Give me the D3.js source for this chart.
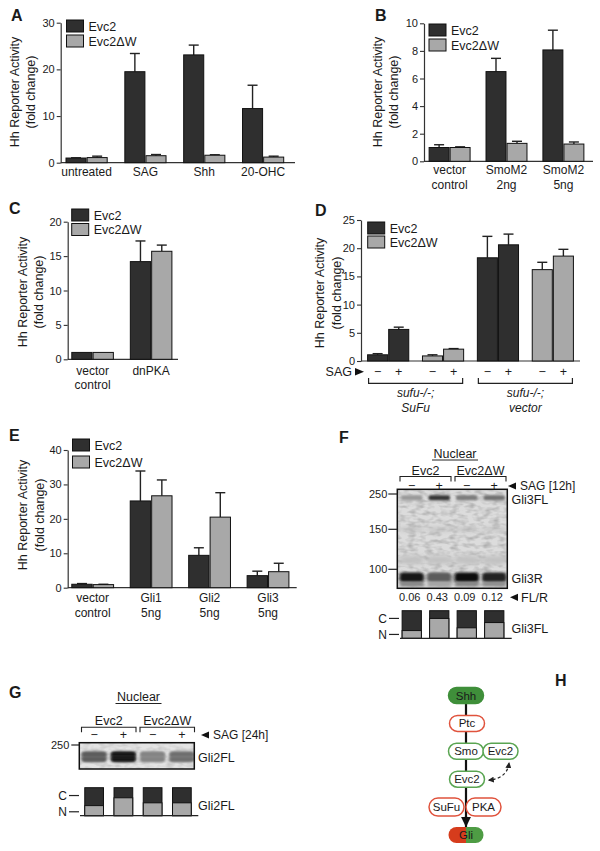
<!DOCTYPE html>
<html><head><meta charset="utf-8">
<script src="https://cdn.jsdelivr.net/npm/d3@7"></script>
<style>
body{margin:0;background:#fff}
svg{display:block}
text{font-family:"Liberation Sans",Arial,Helvetica,sans-serif;fill:#1a1a1a}
</style>
</head><body>
<svg id="fig" width="600" height="851"></svg>
<script>
// ---------------- DATA ----------------
const seriesNames = ["Evc2", "Evc2\u0394W"];

// Panel A
const catsA = [["untreated"], ["SAG"], ["Shh"], ["20-OHC"]];
const evc2A = [1.0, 19.5, 23.1, 11.6];
const evc2ErrA = [0.05, 3.9, 2.1, 5.0];
const dwA = [1.1, 1.5, 1.6, 1.2];
const dwErrA = [0.3, 0.25, 0.1, 0.2];
const ticksA = [0, 10, 20, 30];

// Panel B
const catsB = [["vector", "control"], ["SmoM2", "2ng"], ["SmoM2", "5ng"]];
const evc2B = [1.0, 6.5, 8.07];
const evc2ErrB = [0.2, 0.96, 1.43];
const dwB = [1.0, 1.3, 1.25];
const dwErrB = [0.05, 0.15, 0.15];
const ticksB = [0, 2, 4, 6, 8, 10];

// Panel C
const catsC = [["vector", "control"], ["dnPKA"]];
const evc2C = [1.0, 14.2];
const evc2ErrC = [0, 3.0];
const dwC = [1.0, 15.7];
const dwErrC = [0, 0.9];
const ticksC = [0, 5, 10, 15, 20];

// Panel D
const valsD = [1.1, 5.6, 0.9, 2.1, 18.3, 20.6, 16.2, 18.6];
const errD = [0.2, 0.4, 0.2, 0.1, 3.8, 1.9, 1.3, 1.2];
const seriesD = [0, 0, 1, 1, 0, 0, 1, 1];
const sagD = ["\u2212", "+", "\u2212", "+", "\u2212", "+", "\u2212", "+"];
const cellLinesD = [["sufu-/-;", "SuFu"], ["sufu-/-;", "vector"]];
const ticksD = [0, 5, 10, 15, 20, 25];

// Panel E
const catsE = [["vector", "control"], ["Gli1", "5ng"], ["Gli2", "5ng"], ["Gli3", "5ng"]];
const evc2E = [1.0, 25.2, 9.4, 3.5];
const evc2ErrE = [0.2, 8.7, 2.2, 1.3];
const dwE = [0.9, 26.7, 20.5, 4.65];
const dwErrE = [0.1, 4.6, 7.1, 2.45];
const ticksE = [0, 10, 20, 30, 40];

// Panel F (blot)
const sagF = ["\u2212", "+", "\u2212", "+"];
const markersF = [250, 150, 100];
const gli3FLF = [0.3, 0.8, 0.45, 0.5];
const gli3RF = [0.95, 0.6, 0.97, 0.88];
const ratioF = ["0.06", "0.43", "0.09", "0.12"];
const nuclearFracF = [0.28, 0.72, 0.38, 0.57];

// Panel G (blot)
const sagG = ["\u2212", "+", "\u2212", "+"];
const markersG = [250];
const gli2FLG = [0.62, 0.97, 0.42, 0.52];
const nuclearFracG = [0.36, 0.64, 0.46, 0.46];

// Panel H (diagram)
const pathwayRows = ["Shh", "Ptc", "Smo", "Evc2", "SuFu", "Gli"];

// ---------------- DRAW ----------------
const svg = d3.select("#fig");
const FONT = '"Liberation Sans", Arial, Helvetica, sans-serif';
const DARK = "#2f2f2f", LIGHT = "#a8a8a8", AX = "#333";
const fill = [DARK, LIGHT];
const defs = svg.append("defs");

function letter(t, x, y) {
  svg.append("text").attr("x", x).attr("y", y).attr("font-size", 16)
    .attr("font-weight", "bold").text(t);
}

function pairBars(e, ee, d, de) {
  const out = [];
  e.forEach((v, i) => {
    out.push({ g: i, s: 0, v: v, e: ee[i], ser: 0 });
    out.push({ g: i, s: 1, v: d[i], e: de[i], ser: 1 });
  });
  return out;
}

function barPanel(o) {
  const g = svg.append("g");
  const y = d3.scaleLinear().domain([0, d3.max(o.ticks)]).range([o.y0, o.y1]);
  const x = d3.scaleBand().domain(d3.range(o.nGroups)).range(o.xr)
    .paddingInner(o.pi).paddingOuter(o.po);
  const xi = d3.scaleBand().domain([0, 1]).range([0, x.bandwidth()]).paddingInner(0.05);
  const axis = d3.axisLeft(y).tickValues(o.ticks).tickSize(4).tickPadding(2).tickSizeOuter(0);
  const ag = g.append("g").attr("transform", `translate(${o.xr[0]},0)`).call(axis);
  ag.attr("font-family", FONT).attr("font-size", 11);
  ag.select(".domain").attr("stroke", AX).attr("stroke-width", 1.2);
  ag.selectAll(".tick line").attr("stroke", AX).attr("stroke-width", 1.1);
  ag.selectAll(".tick text").attr("fill", "#222");
  g.append("line").attr("x1", o.xr[0]).attr("x2", o.xEnd).attr("y1", o.y0).attr("y2", o.y0)
    .attr("stroke", AX).attr("stroke-width", 1.2);

  const bx = b => x(b.g) + xi(b.s);
  const bw = xi.bandwidth();
  const eb = g.selectAll(".eb").data(o.bars.filter(b => b.e > 0)).enter().append("g");
  eb.append("line").attr("x1", b => bx(b) + bw / 2).attr("x2", b => bx(b) + bw / 2)
    .attr("y1", b => y(b.v)).attr("y2", b => y(b.v + b.e)).attr("stroke", "#222").attr("stroke-width", 1.4);
  eb.append("line").attr("x1", b => bx(b) + bw / 2 - 5).attr("x2", b => bx(b) + bw / 2 + 5)
    .attr("y1", b => y(b.v + b.e)).attr("y2", b => y(b.v + b.e)).attr("stroke", "#222").attr("stroke-width", 1.4);
  g.selectAll(".bar").data(o.bars).enter().append("rect")
    .attr("x", bx).attr("width", bw)
    .attr("y", b => y(b.v)).attr("height", b => o.y0 - y(b.v))
    .attr("fill", b => fill[b.ser]).attr("stroke", "#111").attr("stroke-width", 1);

  seriesNames.forEach((n, i) => {
    const ly = o.legY + i * o.legStep;
    g.append("rect").attr("x", o.legX).attr("y", ly).attr("width", 17).attr("height", 12)
      .attr("fill", fill[i]).attr("stroke", "#111").attr("stroke-width", 1);
    g.append("text").attr("x", o.legX + 22).attr("y", ly + 10.5).attr("font-size", 12.5).text(n);
  });

  [["Hh Reporter Activity", o.titleX[0]], ["(fold change)", o.titleX[1]]].forEach(([t, tx]) => {
    g.append("text").attr("transform", `translate(${tx},${o.titleY}) rotate(-90)`)
      .attr("text-anchor", "middle").attr("dy", "0.35em").attr("font-size", 12.5).text(t);
  });

  if (o.cats) {
    o.cats.forEach((lines, i) => {
      lines.forEach((t, j) => {
        g.append("text").attr("x", x(i) + x.bandwidth() / 2).attr("y", o.labY[j])
          .attr("text-anchor", "middle").attr("font-size", 12).text(t);
      });
    });
  }
  return { x, xi, y, g };
}

// Panel A
letter("A", 11, 21);
barPanel({
  nGroups: catsA.length, bars: pairBars(evc2A, evc2ErrA, dwA, dwErrA), ticks: ticksA,
  y0: 162.7, y1: 22.7, xr: [60.7, 289], pi: 0.3, po: 0.09, xEnd: 295,
  legX: 66.5, legY: 20, legStep: 15, titleX: [14.5, 31], titleY: 92,
  cats: catsA, labY: [175.5]
});

// Panel B
letter("B", 375, 21);
barPanel({
  nGroups: catsB.length, bars: pairBars(evc2B, evc2ErrB, dwB, dwErrB), ticks: ticksB,
  y0: 161.3, y1: 23.3, xr: [424, 589], pi: 0.28, po: 0.09, xEnd: 593,
  legX: 429, legY: 24, legStep: 15, titleX: [377.5, 394], titleY: 92,
  cats: catsB, labY: [174, 189]
});

// Panel C
letter("C", 9, 214);
barPanel({
  nGroups: catsC.length, bars: pairBars(evc2C, evc2ErrC, dwC, dwErrC), ticks: ticksC,
  y0: 359.3, y1: 221.7, xr: [67.7, 176], pi: 0.29, po: 0.07, xEnd: 178,
  legX: 71.7, legY: 209, legStep: 14.5, titleX: [22.5, 38.5], titleY: 292,
  cats: catsC, labY: [375, 389]
});

// Panel D
letter("D", 315, 216);
const barsD = valsD.map((v, i) => ({ g: Math.floor(i / 2), s: i % 2, v: v, e: errD[i], ser: seriesD[i] }));
const pD = barPanel({
  nGroups: 4, bars: barsD, ticks: ticksD,
  y0: 361, y1: 220, xr: [361, 580], pi: 0.25, po: 0.12, xEnd: 580,
  legX: 367.7, legY: 222, legStep: 14, titleX: [320, 336.5], titleY: 293
});
{
  const g = pD.g, x = pD.x, xi = pD.xi;
  const cx = i => x(Math.floor(i / 2)) + xi(i % 2) + xi.bandwidth() / 2;
  sagD.forEach((t, i) => {
    g.append("text").attr("x", cx(i)).attr("y", 375.5).attr("text-anchor", "middle")
      .attr("font-size", 12.5).text(t);
  });
  g.append("text").attr("x", 352).attr("y", 375.7).attr("text-anchor", "end").attr("font-size", 12.5).text("SAG");
  g.append("path").attr("d", "M355,368 L364,371.7 L355,375.4 Z").attr("fill", "#111");
  cellLinesD.forEach((lines, k) => {
    const xa = x(2 * k) + 1, xb = x(2 * k + 1) + x.bandwidth() - 1;
    g.append("path").attr("d", `M${xa},378 V383.3 H${xb} V378`).attr("fill", "none")
      .attr("stroke", "#222").attr("stroke-width", 1.2);
    lines.forEach((t, j) => {
      g.append("text").attr("x", (xa + xb) / 2).attr("y", 397 + j * 14.5).attr("text-anchor", "middle")
        .attr("font-size", 12).attr("font-style", "italic").text(t);
    });
  });
}

// Panel E
letter("E", 9, 441);
barPanel({
  nGroups: catsE.length, bars: pairBars(evc2E, evc2ErrE, dwE, dwErrE), ticks: ticksE,
  y0: 587.7, y1: 450, xr: [67.7, 293], pi: 0.285, po: 0.07, xEnd: 296.7,
  legX: 72.5, legY: 439, legStep: 17, titleX: [23, 39.5], titleY: 515,
  cats: catsE, labY: [601.5, 616.5]
});

// ---------- Blots ----------
function blurFilter(id, sd) {
  defs.append("filter").attr("id", id).attr("x", "-40%").attr("y", "-150%").attr("width", "180%").attr("height", "400%")
    .append("feGaussianBlur").attr("stdDeviation", sd);
}
blurFilter("blur2", "1.6 1.2");
blurFilter("blur1", "1.2 0.8");
blurFilter("blur3", "2.5 2");
{
  const f = defs.append("filter").attr("id", "noise").attr("x", 0).attr("y", 0).attr("width", "100%").attr("height", "100%");
  f.append("feTurbulence").attr("type", "fractalNoise").attr("baseFrequency", "0.12 0.25").attr("numOctaves", 2).attr("seed", 3).attr("result", "n");
  f.append("feColorMatrix").attr("in", "n").attr("type", "matrix")
    .attr("values", "0 0 0 0 0  0 0 0 0 0  0 0 0 0 0  0.9 0 0 0 -0.35").attr("result", "a");
  f.append("feComposite").attr("in", "a").attr("in2", "SourceGraphic").attr("operator", "in");
}
defs.append("marker").attr("id", "arrL").attr("viewBox", "0 0 10 10").attr("refX", 8).attr("refY", 5)
  .attr("markerWidth", 5).attr("markerHeight", 5).attr("orient", "auto-start-reverse")
  .append("path").attr("d", "M0,0 L10,5 L0,10 Z").attr("fill", "#222");
defs.append("marker").attr("id", "arrB").attr("viewBox", "0 0 10 10").attr("refX", 8).attr("refY", 5)
  .attr("markerWidth", 4.5).attr("markerHeight", 4.5).attr("orient", "auto")
  .append("path").attr("d", "M0,0 L10,5 L0,10 Z").attr("fill", "#111");

const bandColor = t => d3.interpolateRgb("#d6d6d6", "#0b0b0b")(t);

function blotHeader(o) {
  const g = svg.append("g");
  const lane = o.lane;
  const cx = i => lane(i) + lane.bandwidth() / 2;
  g.append("text").attr("x", o.nucX).attr("y", o.nucY).attr("text-anchor", "middle").attr("font-size", 12.5).text("Nuclear");
  g.append("line").attr("x1", o.nucX - 23).attr("x2", o.nucX + 23).attr("y1", o.nucY + 2.5).attr("y2", o.nucY + 2.5)
    .attr("stroke", "#222").attr("stroke-width", 1);
  seriesNames.forEach((n, k) => {
    const xa = lane(2 * k) + 2, xb = lane(2 * k + 1) + lane.step() - 2;
    g.append("text").attr("x", (xa + xb) / 2).attr("y", o.grpY).attr("text-anchor", "middle").attr("font-size", 12.5).text(n);
    g.append("path").attr("d", `M${xa},${o.brY + 5} V${o.brY} H${xb} V${o.brY + 5}`)
      .attr("fill", "none").attr("stroke", "#222").attr("stroke-width", 1.1);
  });
  o.sag.forEach((t, i) => {
    g.append("text").attr("x", cx(i)).attr("y", o.sagY + 4.3).attr("text-anchor", "middle").attr("font-size", 12.5).text(t);
  });
  g.append("path").attr("d", `M${o.triX},${o.sagY} L${o.triX + 8},${o.sagY - 3.6} L${o.triX + 8},${o.sagY + 3.6} Z`).attr("fill", "#111");
  g.append("text").attr("x", o.triX + 12).attr("y", o.sagY + 4).attr("font-size", 12).text(o.sagText);
  return g;
}

function stackPanel(o) {
  const g = svg.append("g");
  const lane = o.lane;
  const ys = d3.scaleLinear().domain([0, 1]).range([o.sy0, o.sy1]);
  const w = lane.bandwidth() * o.wFrac;
  o.frac.forEach((f, i) => {
    const x0 = lane(i) + (lane.bandwidth() - w) / 2;
    g.append("rect").attr("x", x0).attr("y", ys(1)).attr("width", w).attr("height", ys(0) - ys(1))
      .attr("fill", DARK).attr("stroke", "#111").attr("stroke-width", 1);
    g.append("rect").attr("x", x0).attr("y", ys(f)).attr("width", w).attr("height", ys(0) - ys(f))
      .attr("fill", LIGHT).attr("stroke", "#111").attr("stroke-width", 1);
  });
  g.append("line").attr("x1", o.baseX[0]).attr("x2", o.baseX[1]).attr("y1", ys(0)).attr("y2", ys(0))
    .attr("stroke", "#222").attr("stroke-width", 1.3);
  [["C", 0.72], ["N", 0.14]].forEach(([t, f]) => {
    g.append("text").attr("x", o.baseX[0] - 13).attr("y", ys(f) + 4.3).attr("text-anchor", "end").attr("font-size", 12).text(t);
    g.append("line").attr("x1", o.baseX[0] - 11).attr("x2", o.baseX[0] - 1).attr("y1", ys(f)).attr("y2", ys(f))
      .attr("stroke", "#222").attr("stroke-width", 1.2);
  });
  g.append("text").attr("x", o.labX).attr("y", ys(0.35) + 4.3).attr("font-size", 12.5).text(o.label);
}

// Panel F
letter("F", 339, 443);
{
  const lane = d3.scaleBand().domain(d3.range(4)).range([398, 508]);
  const bx0 = 397.3, bx1 = 507.3, by0 = 489.3, by1 = 588.3;
  const mw = d3.scaleLog().domain([100, 150, 250]).range([569.3, 529.3, 494]);
  blotHeader({ lane, nucX: 455, nucY: 457.5, grpY: 474.5, brY: 476.5, sag: sagF, sagY: 486,
    triX: 508, sagText: "SAG [12h]" });
  const g = svg.append("g");
  defs.append("clipPath").attr("id", "clipF").append("rect").attr("x", bx0).attr("y", by0).attr("width", bx1 - bx0).attr("height", by1 - by0);
  g.append("rect").attr("x", bx0).attr("y", by0).attr("width", bx1 - bx0).attr("height", by1 - by0).attr("fill", "#dcdcdc");
  const bg = g.append("g").attr("clip-path", "url(#clipF)");
  bg.append("rect").attr("x", bx0).attr("y", by0).attr("width", bx1 - bx0).attr("height", by1 - by0)
    .attr("fill", "#9a9a9a").attr("filter", "url(#noise)").attr("opacity", 0.45);
  // faint diffuse smears
  [{ m: 150, t: 0.12, h: 3 }, { m: 110, t: 0.1, h: 8 }].forEach(b => {
    d3.range(4).forEach(i => {
      bg.append("rect").attr("x", lane(i) + 2).attr("width", lane.bandwidth() - 4).attr("y", mw(b.m) - b.h / 2).attr("height", b.h)
        .attr("fill", bandColor(b.t)).attr("filter", "url(#blur3)");
    });
  });
  gli3FLF.forEach((t, i) => {
    bg.append("rect").attr("x", lane(i) + 3).attr("width", lane.bandwidth() - 6).attr("y", mw(237) - 2.5).attr("height", 5)
      .attr("rx", 2).attr("fill", bandColor(t)).attr("filter", "url(#blur1)");
  });
  gli3RF.forEach((t, i) => {
    bg.append("rect").attr("x", lane(i) + 1.5).attr("width", lane.bandwidth() - 3).attr("y", mw(92) - 5).attr("height", 10)
      .attr("rx", 4).attr("fill", bandColor(t)).attr("filter", "url(#blur2)");
    bg.append("rect").attr("x", lane(i) + 2).attr("width", lane.bandwidth() - 4).attr("y", mw(92) + 4).attr("height", 5)
      .attr("fill", bandColor(t * 0.4)).attr("filter", "url(#blur2)");
  });
  g.append("rect").attr("x", bx0).attr("y", by0).attr("width", bx1 - bx0).attr("height", by1 - by0)
    .attr("fill", "none").attr("stroke", "#111").attr("stroke-width", 1.5);
  markersF.forEach(m => {
    g.append("line").attr("x1", bx0 - 9).attr("x2", bx0).attr("y1", mw(m)).attr("y2", mw(m)).attr("stroke", "#222").attr("stroke-width", 1.2);
    g.append("text").attr("x", bx0 - 10).attr("y", mw(m) + 4).attr("text-anchor", "end").attr("font-size", 11).text(m);
  });
  g.append("text").attr("x", 511.5).attr("y", mw(237) + 6).attr("font-size", 12.5).text("Gli3FL");
  g.append("text").attr("x", 511.5).attr("y", mw(92) + 5).attr("font-size", 12.5).text("Gli3R");
  ratioF.forEach((t, i) => {
    g.append("text").attr("x", lane(i) + lane.bandwidth() / 2 - 2).attr("y", 601.3).attr("text-anchor", "middle").attr("font-size", 11).text(t);
  });
  g.append("path").attr("d", "M510,597.3 L518,593.7 L518,600.9 Z").attr("fill", "#111");
  g.append("text").attr("x", 521).attr("y", 601.5).attr("font-size", 12.5).text("FL/R");
  stackPanel({ lane, frac: nuclearFracF, sy0: 638.3, sy1: 610.7, wFrac: 0.7, baseX: [400, 511.7], labX: 511.5, label: "Gli3FL" });
}

// Panel G
letter("G", 9, 698);
{
  const lane = d3.scaleBand().domain(d3.range(4)).range([79.5, 196.5]);
  const bx0 = 79.3, bx1 = 194.3, by0 = 742.7, by1 = 769;
  blotHeader({ lane, nucX: 138.5, nucY: 701, grpY: 724.5, brY: 727.3, sag: sagG, sagY: 735,
    triX: 201, sagText: "SAG [24h]" });
  const g = svg.append("g");
  defs.append("clipPath").attr("id", "clipG").append("rect").attr("x", bx0).attr("y", by0).attr("width", bx1 - bx0).attr("height", by1 - by0);
  g.append("rect").attr("x", bx0).attr("y", by0).attr("width", bx1 - bx0).attr("height", by1 - by0).attr("fill", "#e4e4e4");
  const bg = g.append("g").attr("clip-path", "url(#clipG)");
  bg.append("rect").attr("x", bx0).attr("y", by0).attr("width", bx1 - bx0).attr("height", by1 - by0)
    .attr("fill", "#aaa").attr("filter", "url(#noise)").attr("opacity", 0.3);
  const bandY = 757.3;
  gli2FLG.forEach((t, i) => {
    bg.append("rect").attr("x", lane(i) + 2).attr("width", lane.bandwidth() - 4).attr("y", bandY - 6).attr("height", 11)
      .attr("rx", 4).attr("fill", bandColor(t * 0.85)).attr("filter", "url(#blur2)");
    bg.append("rect").attr("x", lane(i) + 3).attr("width", lane.bandwidth() - 6).attr("y", bandY - 4.5).attr("height", 3)
      .attr("fill", bandColor(t)).attr("filter", "url(#blur1)");
    bg.append("rect").attr("x", lane(i) + 3).attr("width", lane.bandwidth() - 6).attr("y", bandY + 0.5).attr("height", 3)
      .attr("fill", bandColor(t)).attr("filter", "url(#blur1)");
  });
  g.append("rect").attr("x", bx0).attr("y", by0).attr("width", bx1 - bx0).attr("height", by1 - by0)
    .attr("fill", "none").attr("stroke", "#111").attr("stroke-width", 1.5);
  markersG.forEach(m => {
    g.append("line").attr("x1", bx0 - 8).attr("x2", bx0).attr("y1", 745).attr("y2", 745).attr("stroke", "#222").attr("stroke-width", 1.2);
    g.append("text").attr("x", bx0 - 10).attr("y", 749).attr("text-anchor", "end").attr("font-size", 11).text(m);
  });
  g.append("text").attr("x", 198).attr("y", bandY + 5).attr("font-size", 12.5).text("Gli2FL");
  stackPanel({ lane, frac: nuclearFracG, sy0: 815.7, sy1: 787.7, wFrac: 0.64, baseX: [80, 198.3], labX: 198, label: "Gli2FL" });
}

// Panel H
{
  const g = svg.append("g");
  const HF = '"Open Sans", "Noto Sans", Arial, sans-serif';
  const ry = d3.scalePoint().domain(pathwayRows).range([695.5, 835]);
  const cx = 466, w = 35, h = 16;
  const GREEN = "#5aa552", RED = "#e0533d";
  g.append("line").attr("x1", cx).attr("x2", cx).attr("y1", ry("Shh")).attr("y2", ry("Gli") - h / 2 + 1)
    .attr("stroke", "#111").attr("stroke-width", 2.2);
  const nodes = [
    { t: "Shh", row: "Shh", x: cx, kind: "fill" },
    { t: "Ptc", row: "Ptc", x: cx + 1, kind: RED },
    { t: "Smo", row: "Smo", x: cx, kind: GREEN },
    { t: "Evc2", row: "Smo", x: cx + 34.5, kind: GREEN },
    { t: "Evc2", row: "Evc2", x: cx + 1, kind: GREEN },
    { t: "SuFu", row: "SuFu", x: cx - 19.5, kind: RED },
    { t: "PKA", row: "SuFu", x: cx + 17.5, kind: RED },
  ];
  nodes.forEach(n => {
    const y = ry(n.row);
    const hh = n.row === "SuFu" ? 18 : h;
    g.append("rect").attr("x", n.x - w / 2).attr("y", y - hh / 2).attr("width", w).attr("height", hh).attr("rx", hh / 2)
      .attr("fill", n.kind === "fill" ? "#3f8f3a" : "#fff")
      .attr("stroke", n.kind === "fill" ? "#3f8f3a" : n.kind).attr("stroke-width", 1.5);
    g.append("text").attr("x", n.x).attr("y", y + 4).attr("text-anchor", "middle").attr("font-family", HF)
      .attr("font-size", 11.5).attr("fill", "#111").text(n.t);
  });
  // line segment below SuFu/PKA to Gli with arrow
  const gy = ry("Gli");
  g.append("line").attr("x1", cx).attr("x2", cx).attr("y1", ry("SuFu") + 9).attr("y2", gy - 10)
    .attr("stroke", "#111").attr("stroke-width", 2.2).attr("marker-end", "url(#arrB)");
  defs.append("clipPath").attr("id", "gliL").append("rect").attr("x", cx - 30).attr("y", gy - 12).attr("width", 30).attr("height", 24);
  defs.append("clipPath").attr("id", "gliR").append("rect").attr("x", cx).attr("y", gy - 12).attr("width", 30).attr("height", 24);
  g.append("rect").attr("x", cx - w / 2).attr("y", gy - 8).attr("width", w).attr("height", 16).attr("rx", 8)
    .attr("fill", "#d63c1c").attr("clip-path", "url(#gliL)");
  g.append("rect").attr("x", cx - w / 2).attr("y", gy - 8).attr("width", w).attr("height", 16).attr("rx", 8)
    .attr("fill", "#4e9c44").attr("clip-path", "url(#gliR)");
  g.append("text").attr("x", cx).attr("y", gy + 4).attr("text-anchor", "middle").attr("font-family", HF)
    .attr("font-size", 11.5).attr("fill", "#111").text("Gli");
  g.append("path").attr("d", `M509,${ry("Smo") + 12} Q507,${ry("Evc2") - 1} 489,${ry("Evc2") + 1}`)
    .attr("fill", "none").attr("stroke", "#222").attr("stroke-width", 1.2).attr("stroke-dasharray", "3,2.5")
    .attr("marker-start", "url(#arrL)").attr("marker-end", "url(#arrL)");
  letter("H", 555, 686);
}
</script>
</body></html>
